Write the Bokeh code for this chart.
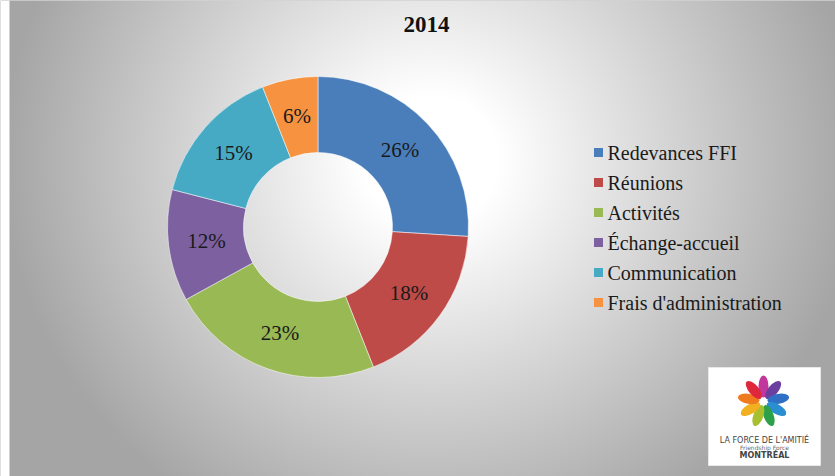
import numpy as np
from bokeh.plotting import figure
from bokeh.models import Range1d, ColumnDataSource
from bokeh.core.properties import value
from bokeh.embed import file_html
from bokeh.resources import INLINE

# ---- data ----
title_text = "2014"
categories = ["Redevances FFI", "Réunions", "Activités", "Échange-accueil",
              "Communication", "Frais d'administration"]
percents = [26, 18, 23, 12, 15, 6]
colors = ["#4A7EBB", "#BE4B48", "#98B954", "#7D60A0", "#46AAC5", "#F69240"]

W, H = 835, 476
SERIF = value("'Liberation Serif', 'Times New Roman', serif")

p = figure(width=W, height=H, output_backend="svg", toolbar_location=None,
           x_range=Range1d(0, W), y_range=Range1d(0, H), min_border=0,
           x_axis_location=None, y_axis_location=None)
p.grid.visible = False
p.outline_line_color = None
p.background_fill_color = "#a8a8a8"
p.border_fill_color = "#a8a8a8"

# ---- radial grey background ----
yy, xx = np.mgrid[0:H, 0:W]
py = H - yy - 0.5
px = xx + 0.5
d = np.sqrt((px - 430) ** 2 + ((py - 160) * 1.05) ** 2)
g = 255 - np.clip((d - 70) * 0.25, 0, 90)
g = g.astype(np.uint32)
img = (255 << 24) | (g << 16) | (g << 8) | g
img[:, :9] = 0xFFFFFFFF
p.image_rgba(image=[img.astype(np.uint32)], x=0, y=0, dw=W, dh=H)

# ---- donut ----
cx, cy = 317.5, H - 226.5
r_in, r_out = 74.5, 150.5
fr = np.array(percents) / sum(percents)
cum = np.concatenate([[0], np.cumsum(fr)])
start = np.pi / 2 - 2 * np.pi * cum[:-1]
end = np.pi / 2 - 2 * np.pi * cum[1:]
mid = (start + end) / 2
rm = (r_in + r_out) / 2
src = ColumnDataSource(dict(
    start=start, end=end, color=colors,
    lx=cx + rm * np.cos(mid), ly=cy + rm * np.sin(mid),
    lab=[f"{v}%" for v in percents]))
p.annular_wedge(x=cx, y=cy, inner_radius=r_in, outer_radius=r_out,
                start_angle="start", end_angle="end", direction="clock",
                fill_color="color", line_color="#ffffff", line_alpha=0.5,
                line_width=1, source=src)
p.text(x="lx", y="ly", text="lab", source=src, text_align="center",
       text_baseline="middle", text_font=SERIF, text_font_style="normal",
       text_font_size="21px", text_color="#1a1a1a")

# ---- title ----
p.text(x=[426], y=[H - 24], text=[title_text], text_align="center",
       text_baseline="middle", text_font=SERIF,
       text_font_size="23px", text_font_style="bold", text_color="#111111")

# ---- legend ----
ly = [H - (152 + 30 * i) for i in range(len(categories))]
p.scatter(x=[598] * len(categories), y=ly, marker="square", size=9,
          fill_color=colors, line_color=None)
p.text(x=[607] * len(categories), y=ly, text=categories, text_align="left",
       text_baseline="middle", text_font=SERIF, text_font_style="normal",
       text_font_size="20px", text_color="#1a1a1a")

# ---- logo ----
p.rect(x=[764], y=[H - 416], width=112, height=98, fill_color="#ffffff",
       line_color="#e8e8e8")
lc_x, lc_y = 763, H - 401
petal_cols = ["#c2379b", "#6b3fa0", "#2f6fc4", "#2a8fd0", "#2da04a",
              "#a8c030", "#f0b020", "#f07a20", "#e0283c"]
n = len(petal_cols)
ang = np.pi / 2 - 2 * np.pi * np.arange(n) / n
p.ellipse(x=lc_x + 15 * np.cos(ang), y=lc_y + 15 * np.sin(ang), width=22,
          height=10, angle=ang, fill_color=petal_cols, line_color=None)
p.text(x=[764], y=[H - 440], text=["LA FORCE DE L'AMITIÉ"],
       text_align="center", text_baseline="middle",
       text_font=value("DejaVu Sans"), text_font_size="8px",
       text_color="#444444")
p.text(x=[764], y=[H - 447], text=["Friendship Force"],
       text_align="center", text_baseline="middle",
       text_font=value("DejaVu Sans"), text_font_size="6px",
       text_color="#666666")
p.text(x=[764], y=[H - 455], text=["MONTRÉAL"],
       text_align="center", text_baseline="middle",
       text_font=value("DejaVu Sans"), text_font_size="8px",
       text_font_style="bold", text_color="#444444")

open("out.html", "w").write(file_html(p, INLINE))
